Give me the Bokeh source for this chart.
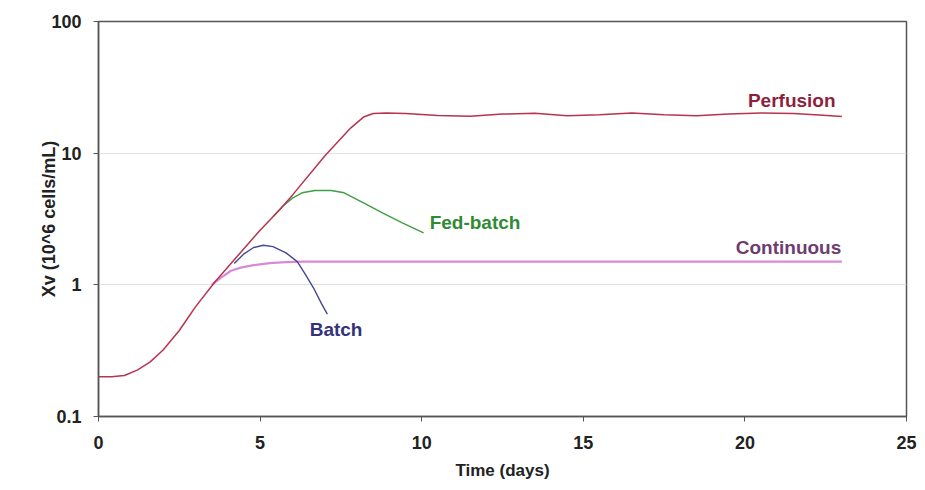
from bokeh.plotting import figure
from bokeh.models import FixedTicker, BasicTickFormatter, Range1d
from bokeh.core.properties import value
from bokeh.embed import file_html
from bokeh.resources import INLINE

# ---- data ----
perf_t = [0, 0.4, 0.8, 1.2, 1.6, 2.0, 2.5, 3.0, 3.6, 4.2, 5.0, 5.6, 6.0, 7.0, 7.8, 8.2, 8.5, 8.9,
          9.5, 10.5, 11.5, 12.5, 13.5, 14.5, 15.5, 16.5, 17.5, 18.5, 19.5, 20.5, 21.5, 22.3, 23.0]
perf_y = [0.2, 0.2, 0.205, 0.225, 0.26, 0.32, 0.45, 0.68, 1.05, 1.55, 2.6, 3.7, 4.8, 9.5, 15.5, 18.8, 20.0, 20.2,
          20.0, 19.3, 19.1, 19.8, 20.1, 19.2, 19.6, 20.2, 19.6, 19.2, 19.8, 20.2, 20.0, 19.5, 19.0]

fed_t = [5.4, 5.7, 6.0, 6.3, 6.7, 7.2, 7.6, 8.2, 8.8, 9.4, 10.06]
fed_y = [3.3, 3.95, 4.55, 5.0, 5.2, 5.2, 5.0, 4.2, 3.5, 2.95, 2.48]

batch_t = [4.2, 4.5, 4.8, 5.1, 5.4, 5.8, 6.15, 6.4, 6.65, 6.9, 7.08]
batch_y = [1.45, 1.72, 1.92, 2.0, 1.95, 1.75, 1.5, 1.2, 0.95, 0.72, 0.6]

cont_t = [3.5, 3.8, 4.1, 4.4, 4.8, 5.3, 5.8, 6.3, 23.0]
cont_y = [1.0, 1.14, 1.28, 1.35, 1.41, 1.46, 1.49, 1.5, 1.5]

labels = ["Perfusion", "Fed-batch", "Continuous", "Batch"]
label_x = [21.45, 11.65, 21.35, 7.35]
label_y = [25.0, 2.95, 1.93, 0.46]
label_colors = ["#8e1f3c", "#2f8a33", "#6e3c6e", "#33337a"]

x_ticks = [0, 5, 10, 15, 20, 25]
y_ticks = [0.1, 1, 10, 100]

# ---- figure ----
p = figure(width=917, height=482, y_axis_type="log",
           x_range=Range1d(0, 25), y_range=Range1d(0.1, 100),
           output_backend="svg", toolbar_location=None,
           min_border_left=98, min_border_right=11, min_border_top=21, min_border_bottom=66)

font = "Liberation Sans"

p.outline_line_color = "#555555"
p.outline_line_width = 1.5
p.background_fill_color = "white"
p.border_fill_color = "white"

p.xgrid.visible = False
p.ygrid.ticker = FixedTicker(ticks=[1, 10])
p.ygrid.grid_line_color = "#e2e2e2"
p.ygrid.grid_line_width = 1

p.xaxis.ticker = FixedTicker(ticks=x_ticks)
p.yaxis.ticker = FixedTicker(ticks=y_ticks)
p.yaxis.formatter = BasicTickFormatter()
p.yaxis.major_label_overrides = {0.1: "0.1", 1: "1", 10: "10", 100: "100"}

for ax in (p.xaxis, p.yaxis):
    ax.axis_line_color = "#555555"
    ax.axis_line_width = 1.5
    ax.major_tick_line_color = "#555555"
    ax.major_tick_in = 0
    ax.major_tick_out = 5
    ax.minor_tick_line_color = None
    ax.major_label_text_font = font
    ax.major_label_text_font_style = "bold"
    ax.major_label_text_font_size = "18px"
    ax.major_label_text_color = "#222222"
    ax.axis_label_text_font = font
    ax.axis_label_text_font_style = "bold"
    ax.axis_label_text_font_size = "17px"
    ax.axis_label_text_color = "#222222"

p.xaxis.axis_label = "Time (days)"
p.yaxis.axis_label = "Xv (10^6 cells/mL)"
p.yaxis.axis_label_text_font_size = "18px"
p.xaxis.major_label_standoff = 14
p.xaxis.axis_label_standoff = 9
p.yaxis.major_label_standoff = 12
p.yaxis.axis_label_standoff = -11

p.line(cont_t, cont_y, line_color="#d98ad6", line_width=2.2)
p.line(batch_t, batch_y, line_color="#474791", line_width=1.4)
p.line(fed_t, fed_y, line_color="#3f9e42", line_width=1.4)
p.line(perf_t, perf_y, line_color="#b8334e", line_width=1.5)

p.text(x=label_x, y=label_y, text=labels, text_color=label_colors,
       text_font=value(font), text_font_style="bold", text_font_size="19px",
       text_align="center", text_baseline="middle")

open("out.html", "w").write(file_html(p, INLINE))
